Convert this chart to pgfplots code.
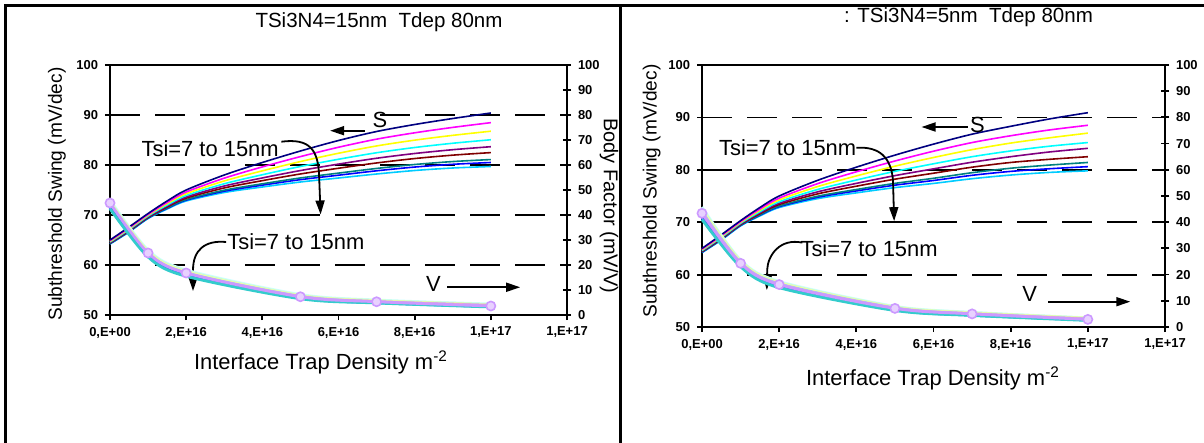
\documentclass[border=0pt]{standalone}
\usepackage{pgfplots}
\pgfplotsset{compat=1.18}
\usepackage{pgfplotstable}
\usepackage{fontspec}
\setmainfont{Liberation Sans}
\usetikzlibrary{arrows.meta}

\definecolor{cNavy}{HTML}{000080}
\definecolor{cMag}{HTML}{FF00FF}
\definecolor{cYel}{HTML}{FFFF00}
\definecolor{cCyan}{HTML}{00FFFF}
\definecolor{cPur}{HTML}{800080}
\definecolor{cMar}{HTML}{800000}
\definecolor{cTeal}{HTML}{008080}
\definecolor{cBlue}{HTML}{0000FF}
\definecolor{cSky}{HTML}{00CCFF}
\definecolor{vA}{HTML}{CCFFFF}
\definecolor{vB}{HTML}{CCFFCC}
\definecolor{vC}{HTML}{FFFF99}
\definecolor{vD}{HTML}{99CCFF}
\definecolor{vE}{HTML}{FF99CC}
\definecolor{vF}{HTML}{CC99FF}
\definecolor{vG}{HTML}{FFCC99}
\definecolor{vH}{HTML}{3366FF}
\definecolor{vI}{HTML}{33CCCC}

\pgfplotstableread{
X a b c d e f g h i
0 65.0 64.86 64.73 64.6 64.5 64.41 64.3 64.26 64.2
0.5 67.6 67.42 67.26 67.1 66.97 66.86 66.73 66.68 66.6
1 70.3 70.12 69.96 69.8 69.67 69.56 69.43 69.38 69.3
1.5 72.8 72.51 72.26 72.0 71.79 71.62 71.41 71.32 71.2
2 75.0 74.6 74.25 73.9 73.61 73.37 73.09 72.97 72.8
3 78.0 77.37 76.81 76.25 75.8 75.41 74.96 74.76 74.5
4 80.5 79.62 78.83 78.05 77.41 76.87 76.24 75.97 75.6
5 82.8 81.68 80.69 79.7 78.89 78.21 77.41 77.07 76.6
6 84.9 83.55 82.35 81.15 80.18 79.35 78.38 77.96 77.4
7 86.7 85.17 83.81 82.45 81.35 80.41 79.31 78.84 78.2
8 88.1 86.44 84.97 83.5 82.3 81.29 80.1 79.59 78.9
9 89.3 87.52 85.93 84.35 83.06 81.97 80.69 80.14 79.4
10 90.4 88.47 86.76 85.05 83.66 82.48 81.09 80.5 79.7
}\SLeft

\pgfplotstableread{
X a b c d e f g h i
0 65.0 64.86 64.73 64.6 64.5 64.41 64.3 64.26 64.2
0.5 67.6 67.42 67.26 67.1 66.97 66.86 66.73 66.68 66.6
1 70.3 70.12 69.96 69.8 69.67 69.56 69.43 69.38 69.3
1.5 72.8 72.51 72.26 72.0 71.79 71.62 71.41 71.32 71.2
2 75.0 74.6 74.25 73.9 73.61 73.37 73.09 72.97 72.8
3 78.0 77.37 76.81 76.25 75.8 75.41 74.96 74.76 74.5
4 80.5 79.62 78.83 78.05 77.41 76.87 76.24 75.97 75.6
5 82.8 81.68 80.69 79.7 78.89 78.21 77.41 77.07 76.6
6 84.9 83.55 82.35 81.15 80.18 79.35 78.38 77.96 77.4
7 86.8 85.2 83.85 82.5 81.45 80.5 79.45 78.95 78.3
8 88.3 86.5 85.1 83.6 82.5 81.4 80.3 79.7 79.0
9 89.7 87.6 86.1 84.5 83.4 82.0 80.9 80.2 79.5
10 90.9 88.5 87.0 85.2 84.1 82.5 81.4 80.6 79.8
}\SRight

\pgfplotstableread{
X a b c d e f g h i
0 46.0 45.5 45.0 44.5 44.0 44.8 43.5 43.0 42.5
1 26.0 25.6 25.2 24.8 24.4 24.8 24.0 23.6 23.2
2 18.0 17.6 17.2 16.9 16.6 16.8 16.2 15.8 15.5
5 8.2 7.9 7.7 7.5 7.3 7.3 7.0 6.8 6.5
7 6.0 5.8 5.6 5.4 5.3 5.3 5.1 4.9 4.8
10 4.4 4.2 4.0 3.9 3.8 3.6 3.6 3.4 3.2
}\VLeft

\pgfplotstableread{
X a b c d e f g h i
0 45.8 45.2 44.6 44.0 43.4 43.4 42.2 41.6 41.0
1 25.6 25.3 25.0 24.6 24.3 24.3 23.6 23.3 23.0
2 17.4 17.1 16.8 16.5 16.2 16.2 15.6 15.3 15.0
5 7.9 7.7 7.5 7.3 7.1 7.1 6.7 6.5 6.3
7 5.6 5.5 5.3 5.1 5.0 5.0 4.7 4.5 4.4
10 3.5 3.4 3.3 3.1 3.0 2.9 2.8 2.7 2.5
}\VRight

\tikzset{
  arr/.style={line width=0.9bp, -{Triangle[length=7bp,width=4.5bp]}},
  anno/.style={font=\fontsize{11}{13}\selectfont},
}

\pgfplotsset{
  tlab/.style={font=\fontsize{6.5}{7}\selectfont\bfseries},
  panelS/.style={scale only axis, anchor=south west,
    xmin=0, xmax=12, ymin=50, ymax=100,
    xtick={0,2,...,12},
    xticklabels={{0,E+00},{2,E+16},{4,E+16},{6,E+16},{8,E+16},{1,E+17},{1,E+17}},
    ytick={50,60,...,100}, xtick pos=bottom, ytick pos=left,
    tick align=outside, major tick length=2.5bp,
    ymajorgrids,
    major grid style={black, line width=0.9bp, dash pattern=on 15bp off 7.5bp},
    axis line style={black, line width=1bp},
    tick style={black, line width=0.9bp},
    tick label style={tlab},
    /pgf/number format/assume math mode=true,
    clip=false},
  panelV/.style={scale only axis, anchor=south west,
    xmin=0, xmax=12, ymin=0, ymax=100,
    axis x line=none, axis y line*=right,
    ytick={0,10,...,100}, tick align=center, major tick length=4bp,
    axis line style={black, line width=1bp, -},
    tick style={black, line width=0.9bp},
    tick label style={tlab},
    /pgf/number format/assume math mode=true,
    clip=false},
  sline/.style={line width=0.8bp, smooth, no markers},
  vline/.style={line width=1.4bp, smooth, no markers},
}

\begin{document}
\begin{tikzpicture}
\useasboundingbox (0,0) rectangle (602bp,221.5bp);
\fill[white] (0,0) rectangle (602bp,221.5bp);

% ---------------- Left panel ----------------
\begin{axis}[panelS, at={(55bp,64bp)}, width=228.5bp, height=125bp]
\addplot[sline, cSky] table[x=X,y=i]{\SLeft};
\addplot[sline, cBlue] table[x=X,y=h]{\SLeft};
\addplot[sline, cTeal] table[x=X,y=g]{\SLeft};
\addplot[sline, cMar] table[x=X,y=f]{\SLeft};
\addplot[sline, cPur] table[x=X,y=e]{\SLeft};
\addplot[sline, cCyan] table[x=X,y=d]{\SLeft};
\addplot[sline, cYel] table[x=X,y=c]{\SLeft};
\addplot[sline, cMag] table[x=X,y=b]{\SLeft};
\addplot[sline, cNavy] table[x=X,y=a]{\SLeft};
\node[anno] at (axis cs:2.63,83.3) {Tsi=7 to 15nm};
\draw[arr] (axis cs:4.5,84.66) .. controls (axis cs:5.25,85.4) and (axis cs:5.46,83) .. (axis cs:5.49,78) -- (axis cs:5.53,70.1);
\node[anno] at (axis cs:4.88,64.6) {Tsi=7 to 15nm};
\draw[arr] (axis cs:3.05,64.6) .. controls (axis cs:2.49,65) and (axis cs:2.18,63) .. (axis cs:2.18,59) -- (axis cs:2.18,54.8);
\node[anno] at (axis cs:7.09,89) {S};
\draw[arr] (axis cs:6.70,86.86) -- (axis cs:5.78,86.86);
\node[anno] at (axis cs:8.49,56.3) {V};
\draw[arr] (axis cs:8.85,55.55) -- (axis cs:10.77,55.55);
\end{axis}
\begin{axis}[panelV, at={(55bp,64bp)}, width=228.5bp, height=125bp]
\addplot[vline, vA] table[x=X,y=a]{\VLeft};
\addplot[vline, vB] table[x=X,y=b]{\VLeft};
\addplot[vline, vC] table[x=X,y=c]{\VLeft};
\addplot[vline, vD] table[x=X,y=d]{\VLeft};
\addplot[vline, vE] table[x=X,y=e]{\VLeft};
\addplot[vline, vG] table[x=X,y=g]{\VLeft};
\addplot[vline, vH] table[x=X,y=h]{\VLeft};
\addplot[vline, vI] table[x=X,y=i]{\VLeft};
\addplot[line width=1.4bp, smooth, vF, mark=*, mark size=2.3bp, mark options={fill=vF!45!white, draw=vF, line width=0.8bp}] table[x=X,y=f]{\VLeft};
\end{axis}

% ---------------- Right panel ----------------
\begin{axis}[panelS, at={(351bp,58bp)}, width=231.5bp, height=131bp]
\addplot[sline, cSky] table[x=X,y=i]{\SRight};
\addplot[sline, cBlue] table[x=X,y=h]{\SRight};
\addplot[sline, cTeal] table[x=X,y=g]{\SRight};
\addplot[sline, cMar] table[x=X,y=f]{\SRight};
\addplot[sline, cPur] table[x=X,y=e]{\SRight};
\addplot[sline, cCyan] table[x=X,y=d]{\SRight};
\addplot[sline, cYel] table[x=X,y=c]{\SRight};
\addplot[sline, cMag] table[x=X,y=b]{\SRight};
\addplot[sline, cNavy] table[x=X,y=a]{\SRight};
\node[anno] at (axis cs:2.22,84.16) {Tsi=7 to 15nm};
\draw[arr] (axis cs:4.0,84.2) .. controls (axis cs:4.61,84.5) and (axis cs:4.9,82.3) .. (axis cs:4.95,78) -- (axis cs:4.98,70.2);
\node[anno] at (axis cs:7.14,88.55) {S};
\draw[arr] (axis cs:6.89,88.17) -- (axis cs:5.69,88.17);
\node[anno] at (axis cs:4.33,65.02) {Tsi=7 to 15nm};
\draw[arr] (axis cs:2.6,66.1) .. controls (axis cs:2.02,67) and (axis cs:1.71,63.7) .. (axis cs:1.69,61) -- (axis cs:1.68,57.06);
\node[anno] at (axis cs:8.49,56.4) {V};
\draw[arr] (axis cs:8.98,54.83) -- (axis cs:11.1,54.83);
\end{axis}
\begin{axis}[panelV, at={(351bp,58bp)}, width=231.5bp, height=131bp]
\addplot[vline, vA] table[x=X,y=a]{\VRight};
\addplot[vline, vB] table[x=X,y=b]{\VRight};
\addplot[vline, vC] table[x=X,y=c]{\VRight};
\addplot[vline, vD] table[x=X,y=d]{\VRight};
\addplot[vline, vE] table[x=X,y=e]{\VRight};
\addplot[vline, vG] table[x=X,y=g]{\VRight};
\addplot[vline, vH] table[x=X,y=h]{\VRight};
\addplot[vline, vI] table[x=X,y=i]{\VRight};
\addplot[line width=1.4bp, smooth, vF, mark=*, mark size=2.3bp, mark options={fill=vF!45!white, draw=vF, line width=0.8bp}] table[x=X,y=f]{\VRight};
\end{axis}

% ---------------- texts outside the axes ----------------
\node[font=\fontsize{10.3}{12}\selectfont] at (189.5bp,210.65bp) {TSi3N4=15nm\ \ Tdep 80nm};
\node[font=\fontsize{10.3}{12}\selectfont] at (484.25bp,213.15bp) {: TSi3N4=5nm\ \ Tdep 80nm};
\node[font=\fontsize{11}{13}\selectfont] at (160.5bp,40.5bp) {Interface Trap Density m\textsuperscript{-2}};
\node[font=\fontsize{11}{13}\selectfont] at (466.5bp,32.5bp) {Interface Trap Density m\textsuperscript{-2}};
\node[font=\fontsize{9.6}{12}\selectfont, rotate=90] at (28.5bp,124.5bp) {Subthreshold Swing (mV/dec)};
\node[font=\fontsize{9.6}{12}\selectfont, rotate=90] at (325.85bp,126bp) {Subthreshold Swing (mV/dec)};
\node[font=\fontsize{10}{12}\selectfont, rotate=-90] at (304.5bp,118.5bp) {Body Factor (mV/V)};

% ---------------- panel frames ----------------
\draw[line width=1.3bp] (2.65bp,0) -- (2.65bp,218.85bp) -- (602bp,218.85bp);
\draw[line width=1.5bp] (310bp,0) -- (310bp,218.85bp);
\end{tikzpicture}
\end{document}
